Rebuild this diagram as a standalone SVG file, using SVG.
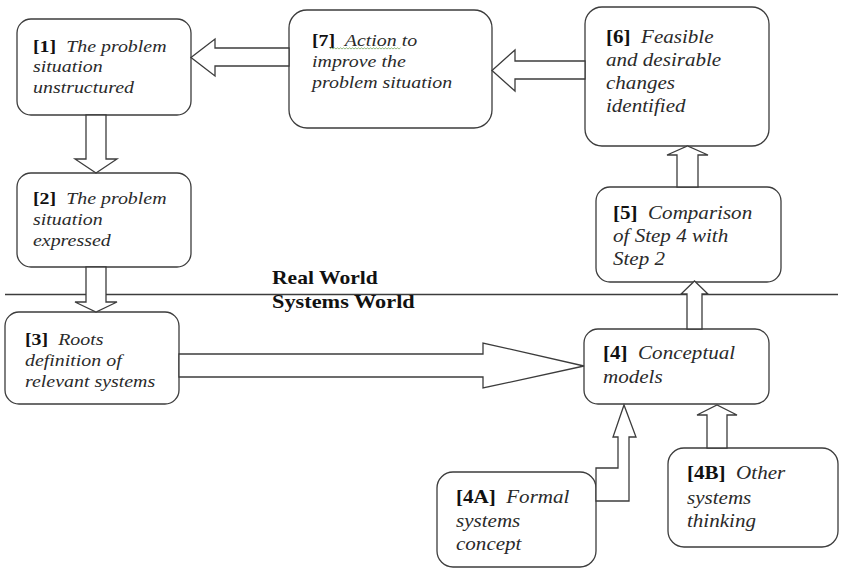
<svg xmlns="http://www.w3.org/2000/svg" width="841" height="569" viewBox="0 0 841 569">
<style>
.box{fill:#fff;stroke:#3c3c3c;stroke-width:1.3}
.arr{fill:#fff;stroke:#3c3c3c;stroke-width:1.3;stroke-linejoin:miter}
.t{font-style:italic;fill:#2a2a2a;white-space:pre}
.s17{font-size:17px}
.s18{font-size:18px}
.b{font-style:normal;font-weight:bold;fill:#111}
.hdr{font-weight:bold;font-size:18px;fill:#111}
</style>
<rect width="841" height="569" fill="#fff"/>
<line x1="5" y1="294.5" x2="838" y2="294.5" stroke="#3c3c3c" stroke-width="1.3"/>
<g font-family="'Liberation Serif', 'Times New Roman', 'DejaVu Serif', serif">
<text class="hdr" transform="translate(272,284) scale(1.2,1)">Real World</text>
<text class="hdr" transform="translate(272,308) scale(1.24,1)">Systems World</text>
<g id="n1">
<rect class="box" x="17" y="19" width="174" height="96" rx="14"/>
<text class="t s17" transform="translate(33,52) scale(1.17,1)"><tspan class="b">[1]</tspan>&#160; The problem<tspan x="0" dy="20.5">situation</tspan><tspan x="0" dy="20.5">unstructured</tspan></text>
</g>
<g id="n2">
<rect class="box" x="17" y="173" width="174" height="94" rx="14"/>
<text class="t s17" transform="translate(33,204) scale(1.17,1)"><tspan class="b">[2]</tspan>&#160; The problem<tspan x="0" dy="21">situation</tspan><tspan x="0" dy="21">expressed</tspan></text>
</g>
<g id="n3">
<rect class="box" x="5" y="312" width="174" height="92" rx="14"/>
<text class="t s17" transform="translate(25,345) scale(1.17,1)"><tspan class="b">[3]</tspan>&#160; Roots<tspan x="0" dy="21">definition of</tspan><tspan x="0" dy="21">relevant systems</tspan></text>
</g>
<g id="n4">
<rect class="box" x="584" y="329" width="185" height="75" rx="14"/>
<text class="t s18" transform="translate(603,359) scale(1.17,1)"><tspan class="b">[4]</tspan>&#160; Conceptual<tspan x="0" dy="24">models</tspan></text>
</g>
<g id="n4a">
<rect class="box" x="437" y="472" width="159" height="95" rx="16"/>
<text class="t s18" transform="translate(456,503) scale(1.17,1)"><tspan class="b">[4A]</tspan>&#160; Formal<tspan x="0" dy="24">systems</tspan><tspan x="0" dy="23">concept</tspan></text>
</g>
<g id="n4b">
<rect class="box" x="668" y="448" width="170" height="99" rx="16"/>
<text class="t s18" transform="translate(687,479) scale(1.17,1)"><tspan class="b">[4B]</tspan>&#160; Other<tspan x="0" dy="25">systems</tspan><tspan x="0" dy="23.5">thinking</tspan></text>
</g>
<g id="n5">
<rect class="box" x="596" y="187" width="185" height="95" rx="14"/>
<text class="t s18" transform="translate(613,219) scale(1.17,1)"><tspan class="b">[5]</tspan>&#160; Comparison<tspan x="0" dy="23">of Step 4 with</tspan><tspan x="0" dy="23">Step 2</tspan></text>
</g>
<g id="n6">
<rect class="box" x="585" y="7" width="184" height="139" rx="17"/>
<text class="t s18" transform="translate(606,43) scale(1.17,1)"><tspan class="b">[6]</tspan>&#160; Feasible<tspan x="0" dy="23">and desirable</tspan><tspan x="0" dy="23">changes</tspan><tspan x="0" dy="23">identified</tspan></text>
</g>
<g id="n7">
<rect class="box" x="289" y="10" width="203" height="118" rx="18"/>
<text class="t s17" transform="translate(312,46) scale(1.17,1)"><tspan class="b">[7]</tspan>&#160; Action to<tspan x="0" dy="21">improve the</tspan><tspan x="0" dy="21">problem situation</tspan></text>
<path d="M330,49 l1.5,-1.2 l1.5,1.2 l1.5,-1.2 l1.5,1.2 l1.5,-1.2 l1.5,1.2 l1.5,-1.2 l1.5,1.2 l1.5,-1.2 l1.5,1.2 l1.5,-1.2 l1.5,1.2 l1.5,-1.2 l1.5,1.2 l1.5,-1.2 l1.5,1.2 l1.5,-1.2 l1.5,1.2 l1.5,-1.2 l1.5,1.2 l1.5,-1.2 l1.5,1.2 l1.5,-1.2 l1.5,1.2 l1.5,-1.2 l1.5,1.2 l1.5,-1.2 l1.5,1.2 l1.5,-1.2 l1.5,1.2 l1.5,-1.2 l1.5,1.2 l1.5,-1.2 l1.5,1.2 l1.5,-1.2 l1.5,1.2 l1.5,-1.2 l1.5,1.2 l1.5,-1.2 l1.5,1.2 l1.5,-1.2 l1.5,1.2 l1.5,-1.2 l1.5,1.2 l1.5,-1.2 l1.5,1.2 l1.5,-1.2" fill="none" stroke="#7aa860" stroke-width="0.8"/>
</g>
</g>
<g id="connectors">
<polygon class="arr" points="86,115 86,159 75,159 96,173 117,159 106,159 106,115"/>
<polygon class="arr" points="86,267 86,302 75,302 96,312 117,302 106,302 106,267"/>
<polygon class="arr" points="179,354 483,354 483,343 584,366 483,388 483,377 179,377"/>
<polygon class="arr" points="687,329 687,294 681,294 694.5,281 708,294 702,294 702,329"/>
<polygon class="arr" points="677,187 677,155 667,155 687.5,146 708,155 698,155 698,187"/>
<polygon class="arr" points="585,61 515,61 515,50 492,70.5 515,91 515,79 585,79"/>
<polygon class="arr" points="289,48 215,48 215,39 191,57.5 215,76 215,66 289,66"/>
<polygon class="arr" points="596,468 618,468 618,437 613,437 624,405 636,437 629,437 629,501 596,501"/>
<polygon class="arr" points="707,448 707,415 697,415 717,405 737,415 727,415 727,448"/>
</g>
</svg>
